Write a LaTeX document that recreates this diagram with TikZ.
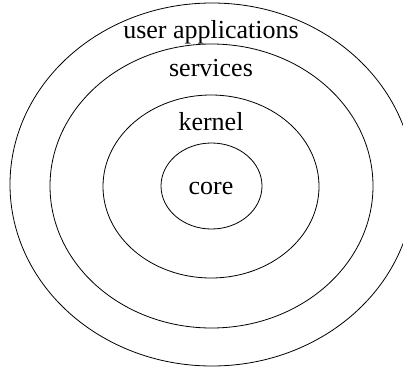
\documentclass[tikz,border=0pt]{standalone}
\usepackage{fontspec}
\setmainfont{Liberation Serif}
\usetikzlibrary{shapes.geometric}

\tikzset{
  layer/.style={draw,ellipse,inner sep=0pt,line width=0.8pt},
  lbl/.style={font=\fontsize{26}{30}\selectfont,inner sep=0pt}
}

\begin{document}
\begin{tikzpicture}[x=1pt,y=-1pt]
        % page and clip
        \useasboundingbox (0,0) rectangle (403,369);
        \clip (0,0) rectangle (403,369);

        % the rings, from outside to inside
        \node[layer,minimum width=404pt,minimum height=363pt] (apps) at (212,184.5) {};
        \node[layer,minimum width=323pt,minimum height=284pt] (serv) at (211.5,186) {};
        \node[layer,minimum width=216pt,minimum height=183pt] (kern) at (211,186.5) {};
        \node[layer,minimum width=101pt,minimum height=86pt] (core) at (211.5,186) {};

        % the names of the rings
        \node[lbl] (appstext) at (211,32) {user applications};
        \node[lbl] (servtext) at (211,68) {services};
        \node[lbl] (kerntext) at (211,122) {kernel};
        \node[lbl] (coretext) at (211,188) {core};
\end{tikzpicture}
\end{document}
